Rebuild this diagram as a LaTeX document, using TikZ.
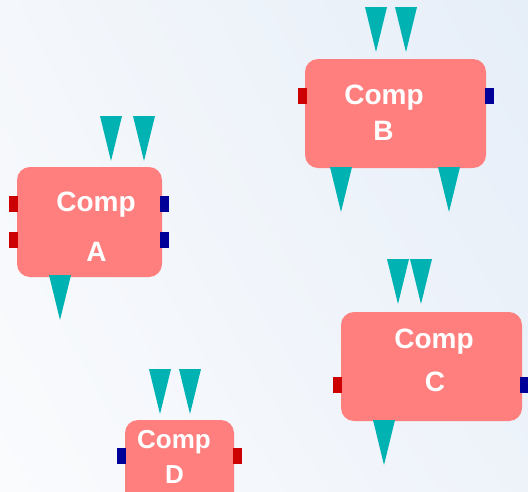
\documentclass[tikz,border=0pt]{standalone}
\usepackage{fontspec}
\setmainfont{Liberation Sans}
\usetikzlibrary{shadings}
\definecolor{compfill}{RGB}{255,127,127}
\definecolor{pinteal}{RGB}{0,178,178}
\definecolor{portred}{RGB}{204,0,0}
\definecolor{portblue}{RGB}{0,0,153}
\definecolor{bgul}{RGB}{244,247,251}
\definecolor{bgur}{RGB}{230,238,248}
\definecolor{bgll}{RGB}{250,251,253}
\definecolor{bglr}{RGB}{238,243,250}
\tikzset{
  comp/.style={fill=compfill, rounded corners=13pt, inner sep=0pt},
  title/.style={text=white, font=\bfseries\fontsize{28}{28}\selectfont, inner sep=0pt, anchor=base},
  inport/.style={fill=portred, minimum width=9pt, minimum height=16pt, inner sep=0pt},
  outport/.style={fill=portblue, minimum width=9pt, minimum height=16pt, inner sep=0pt},
  pin/.pic={\fill[pinteal] (-11,0) -- (11,0) -- (0,45) -- cycle;}
}
\begin{document}
\begin{tikzpicture}[x=1pt,y=-1pt]
  \useasboundingbox (0,0) rectangle (528,491);
  \clip (0,0) rectangle (528,491);
  \shade[upper left=bgul, upper right=bgur, lower left=bgll, lower right=bglr] (0,0) rectangle (528,491);

  % component A
  \node[comp, minimum width=145pt, minimum height=110pt] (A) at (89.5,222) {};
  \node[title] (A1) at (96,211.5) {Comp};
  \node[title] (A2) at (96.5,261.5) {A};
  \node[inport] (Ai1) at (13.5,204) {};
  \node[inport] (Ai2) at (13.5,240) {};
  \node[outport] (Ao1) at (164.5,204) {};
  \node[outport] (Ao2) at (164.5,240) {};
  \pic at (111,116) {pin};
  \pic at (144,116) {pin};
  \pic at (60,275) {pin};

  % component B
  \node[comp, minimum width=181pt, minimum height=109pt] (B) at (395.5,113.5) {};
  \node[title] (B1) at (384,104) {Comp};
  \node[title] (B2) at (383.5,140) {B};
  \node[inport] (Bi1) at (302,96) {};
  \node[outport] (Bo1) at (489,96) {};
  \pic at (376,7) {pin};
  \pic at (406,7) {pin};
  \pic at (341,167) {pin};
  \pic at (449,167) {pin};

  % component C
  \node[comp, minimum width=181pt, minimum height=109pt] (C) at (431.5,366.5) {};
  \node[title] (C1) at (434,348) {Comp};
  \node[title] (C2) at (435,391) {C};
  \node[inport] (Ci1) at (337.5,384.5) {};
  \node[outport] (Co1) at (524.5,384.5) {};
  \pic at (398,259) {pin};
  \pic at (421,259) {pin};
  \pic at (384,420) {pin};

  % component D
  \node[comp, minimum width=109pt, minimum height=109pt] (D) at (179.5,474.5) {};
  \node[title, font=\bfseries\fontsize{26}{26}\selectfont] (D1) at (174,448) {Comp};
  \node[title, font=\bfseries\fontsize{26}{26}\selectfont] (D2) at (174.5,483) {D};
  \node[outport] (Di1) at (121.5,456) {};
  \node[inport] (Do1) at (237,456) {};
  \pic at (160,369) {pin};
  \pic at (190,369) {pin};
\end{tikzpicture}
\end{document}
